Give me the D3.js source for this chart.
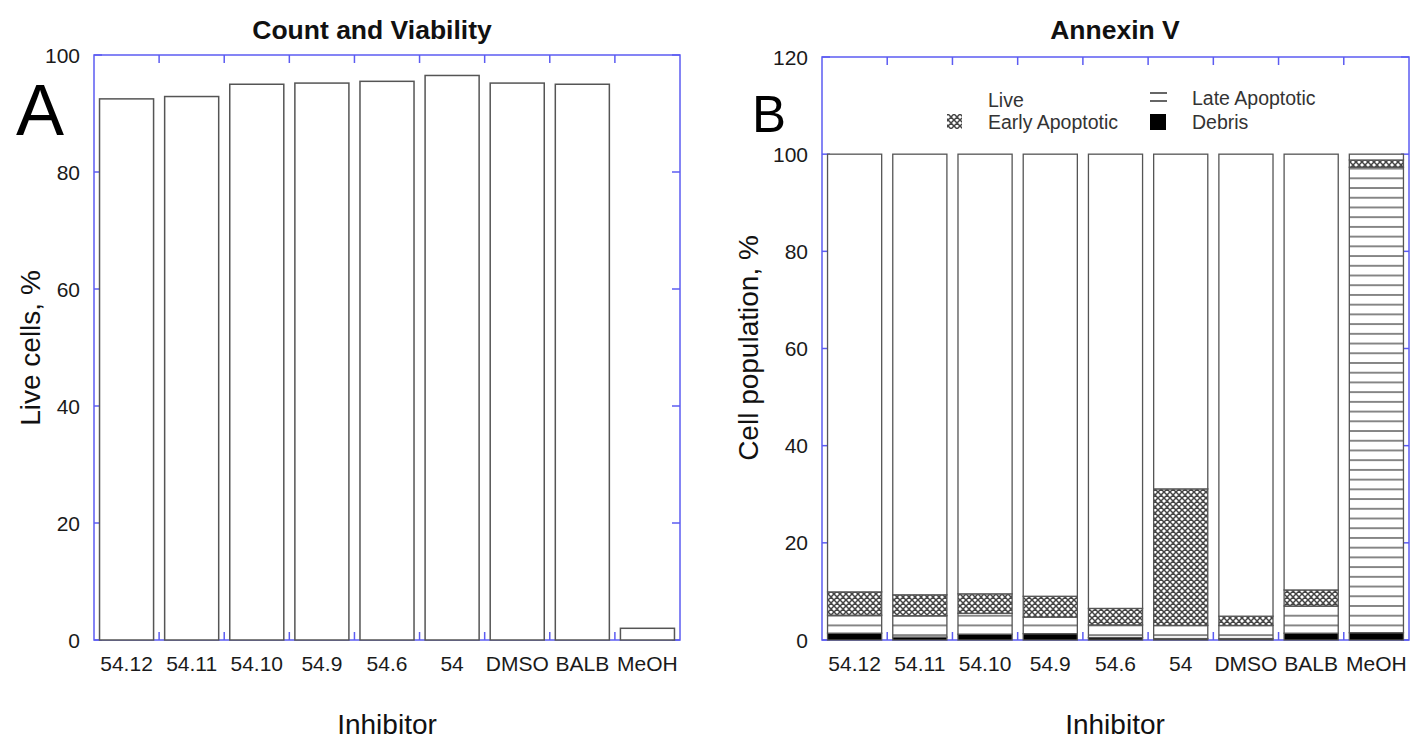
<!DOCTYPE html>
<html><head><meta charset="utf-8">
<script src="https://cdn.jsdelivr.net/npm/d3@7"></script>
<style>body{margin:0;background:#fff}svg{display:block}</style>
</head><body>
<svg id="c" width="1411" height="739"></svg>
<script>
const categories = ["54.12","54.11","54.10","54.9","54.6","54","DMSO","BALB","MeOH"];
const liveCells = [92.5, 92.9, 95.0, 95.2, 95.5, 96.5, 95.2, 95.0, 2.0];
const debris = [1.4, 0.6, 1.2, 1.3, 0.5, 0.3, 0.3, 1.4, 1.5];
const lateApoptotic = [3.7, 4.4, 4.3, 3.4, 2.6, 2.7, 2.7, 5.6, 95.8];
const earlyApoptotic = [4.8, 4.3, 4.0, 4.3, 3.4, 28.1, 1.9, 3.3, 1.5];
const live = categories.map((c,i)=> 100 - debris[i] - lateApoptotic[i] - earlyApoptotic[i]);
const ticksA = [0,20,40,60,80,100];
const ticksB = [0,20,40,60,80,100,120];

const svg = d3.select("#c");
const AX = "#5c5cf2", BAR = "#555";
const FONT = "Liberation Sans, Arial, sans-serif";
const defs = svg.append("defs");
const ch = defs.append("pattern").attr("id","cross").attr("patternUnits","userSpaceOnUse").attr("width",6).attr("height",6);
ch.append("rect").attr("width",6).attr("height",6).attr("fill","#fff");
ch.append("path").attr("d","M0,0L6,6M6,0L0,6M-3,3L3,9M3,-3L9,3M3,9L9,3M-3,3L3,-3").attr("stroke","#444").attr("stroke-width",1.5);
const hl = defs.append("pattern").attr("id","hlines").attr("patternUnits","userSpaceOnUse").attr("width",10).attr("height",9.72).attr("y",640);
hl.append("rect").attr("width",10).attr("height",9.72).attr("fill","#fff");
hl.append("line").attr("x1",0).attr("x2",10).attr("y1",4.86).attr("y2",4.86).attr("stroke","#555").attr("stroke-width",1.4);

function frame(x0,x1,y0,y1,y,ticks){
  const g = svg.append("g");
  const xb = d3.scaleBand().domain(categories).range([x0,x1]).paddingInner(0.17).paddingOuter(0.085);
  g.append("rect").attr("x",x0).attr("y",y1).attr("width",x1-x0).attr("height",y0-y1).attr("fill","none").attr("stroke",AX).attr("stroke-width",1.5);
  const step = (x1-x0)/categories.length;
  for(let k=1;k<categories.length;k++){
    const xx = x0 + step*k;
    g.append("line").attr("x1",xx).attr("x2",xx).attr("y1",y0).attr("y2",y0-8).attr("stroke",AX).attr("stroke-width",1.5);
    g.append("line").attr("x1",xx).attr("x2",xx).attr("y1",y1).attr("y2",y1+8).attr("stroke",AX).attr("stroke-width",1.5);
  }
  ticks.forEach(t=>{
    const yy = y(t);
    g.append("line").attr("x1",x0).attr("x2",x0+8).attr("y1",yy).attr("y2",yy).attr("stroke",AX).attr("stroke-width",1.5);
    g.append("line").attr("x1",x1).attr("x2",x1-8).attr("y1",yy).attr("y2",yy).attr("stroke",AX).attr("stroke-width",1.5);
    g.append("text").attr("x",x0-14).attr("y",yy).attr("dy","0.36em").attr("text-anchor","end")
      .attr("font-family",FONT).attr("font-size",21).attr("fill","#1a1a1a").text(t);
  });
  categories.forEach(c=>{
    g.append("text").attr("x",xb(c)+xb.bandwidth()/2).attr("y",671).attr("text-anchor","middle")
      .attr("font-family",FONT).attr("font-size",21).attr("fill","#1a1a1a").text(c);
  });
  return xb;
}

// Panel A
const yA = d3.scaleLinear().domain([0,100]).range([640,55]);
const xA = frame(94,680,640,55,yA,ticksA);
svg.append("g").selectAll("rect").data(categories).join("rect")
  .attr("x",d=>xA(d)).attr("width",xA.bandwidth())
  .attr("y",(d,i)=>yA(liveCells[i])).attr("height",(d,i)=>yA(0)-yA(liveCells[i]))
  .attr("fill","#fff").attr("stroke",BAR).attr("stroke-width",1.5);

// Panel B
const yB = d3.scaleLinear().domain([0,120]).range([640,57]);
const xB = frame(822,1409,640,57,yB,ticksB);
const keys = ["debris","late","early","live"];
const rows = categories.map((c,i)=>({cat:c, debris:debris[i], late:lateApoptotic[i], early:earlyApoptotic[i], live:live[i]}));
const stack = d3.stack().keys(keys)(rows);
const fills = {debris:"#000", late:"url(#hlines)", early:"url(#cross)", live:"#fff"};
stack.forEach(s=>{
  svg.append("g").selectAll("rect").data(s).join("rect")
    .attr("x",d=>xB(d.data.cat)).attr("width",xB.bandwidth())
    .attr("y",d=>yB(d[1])).attr("height",d=>Math.max(0,yB(d[0])-yB(d[1])))
    .attr("fill",fills[s.key]).attr("stroke",BAR).attr("stroke-width",1.3);
});

// Legend
const lg = svg.append("g").attr("font-family",FONT).attr("font-size",19.5).attr("fill","#333");
lg.append("text").attr("x",988).attr("y",107).text("Live");
lg.append("rect").attr("x",947).attr("y",114).attr("width",15).attr("height",15).attr("fill","url(#cross)");
lg.append("text").attr("x",988).attr("y",129).text("Early Apoptotic");
lg.append("line").attr("x1",1150).attr("x2",1167).attr("y1",93).attr("y2",93).attr("stroke","#333").attr("stroke-width",1.5);
lg.append("line").attr("x1",1150).attr("x2",1167).attr("y1",101).attr("y2",101).attr("stroke","#333").attr("stroke-width",1.5);
lg.append("text").attr("x",1192).attr("y",105).text("Late Apoptotic");
lg.append("rect").attr("x",1150).attr("y",114).attr("width",16).attr("height",16).attr("fill","#000");
lg.append("text").attr("x",1192).attr("y",129).text("Debris");

// Titles & labels
const T = (x,y,s,txt,w,rot)=>{const t=svg.append("text").attr("x",x).attr("y",y).attr("text-anchor","middle")
  .attr("font-family",FONT).attr("font-size",s).attr("font-weight",w||"normal").attr("fill","#111").text(txt);
  if(rot) t.attr("transform",`rotate(-90,${x},${y})`); return t;};
T(372,39,26.5,"Count and Viability","bold");
T(1115,39,26.5,"Annexin V","bold");
T(387,734,28,"Inhibitor");
T(1115,734,28,"Inhibitor");
T(40,348,28,"Live cells, %",null,true);
T(758,348,28,"Cell population, %",null,true);
svg.append("text").attr("x",16).attr("y",135).attr("font-family",FONT).attr("font-size",72).attr("fill","#000").text("A");
svg.append("text").attr("x",752).attr("y",132).attr("font-family",FONT).attr("font-size",51).attr("fill","#000").text("B");
</script>
</body></html>
